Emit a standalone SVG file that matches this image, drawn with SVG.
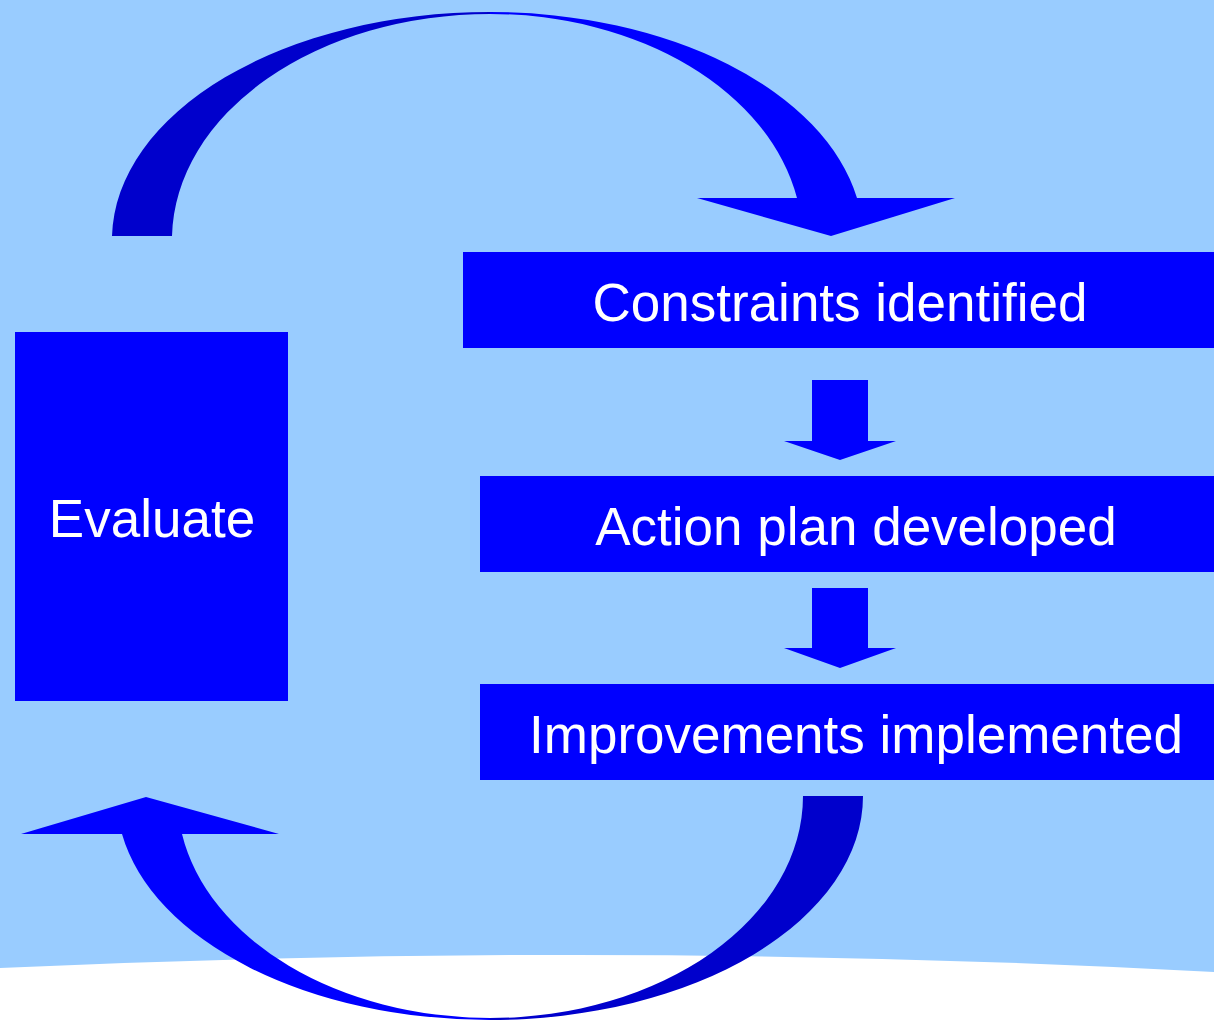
<svg xmlns="http://www.w3.org/2000/svg" width="1214" height="1022" viewBox="0 0 1214 1022">
<style>
.box{fill:#0000FF}
.lbl{fill:#FFFFFF;font-family:"Liberation Sans",Arial,sans-serif;font-size:53px;text-anchor:middle}
.dark{fill:#0000CC}
.bright{fill:#0000FF}
</style>
<rect x="0" y="0" width="1214" height="1022" fill="#99CCFF"/>
<path d="M0,968 Q620,940 1214,972 L1214,1022 L0,1022 Z" fill="#FFFFFF"/>
<g id="connectors">
  <path class="dark" d="M112,236 A378,228 0 0,1 490,12 L490,14 A318,226 0 0,0 172,236 Z"/>
  <path class="bright" d="M490,12 A373,228 0 0,1 857,198 L955,198 L831,236 L697,198 L797,198 A312.4,226 0 0,0 490,14 Z"/>
  <path class="dark" d="M863,796 A373,224 0 0,1 490,1020 L490,1018 A313,222 0 0,0 803,796 Z"/>
  <path class="bright" d="M490,1020 A373,224 0 0,1 122,834 L21,834 L146,797 L279,834 L182,834 A313,222 0 0,0 490,1018 Z"/>
  <polygon class="bright" points="812,380 868,380 868,441 896,441 840,460 784,441 812,441"/>
  <polygon class="bright" points="812,588 868,588 868,648 896,648 840,668 784,648 812,648"/>
</g>
<g id="evaluate">
  <rect class="box" x="15" y="332" width="273" height="369"/>
  <text class="lbl" x="152" y="537">Evaluate</text>
</g>
<g id="constraints">
  <rect class="box" x="463" y="252" width="751" height="96"/>
  <text class="lbl" x="840" y="321">Constraints identified</text>
</g>
<g id="action">
  <rect class="box" x="480" y="476" width="734" height="96"/>
  <text class="lbl" x="856" y="545">Action plan developed</text>
</g>
<g id="improvements">
  <rect class="box" x="480" y="684" width="734" height="96"/>
  <text class="lbl" x="856" y="753">Improvements implemented</text>
</g>
</svg>
